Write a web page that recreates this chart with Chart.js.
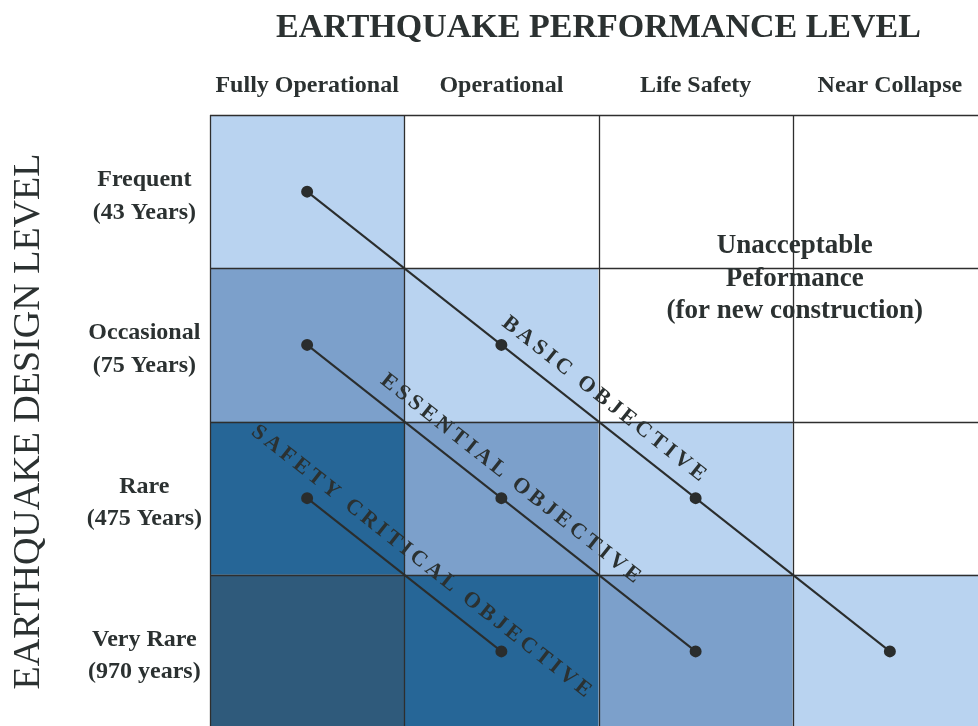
<!DOCTYPE html>
<html><head><meta charset="utf-8">
<script src="https://cdn.jsdelivr.net/npm/chart.js@4/dist/chart.umd.min.js"></script>
<style>
html,body{margin:0;padding:0;background:#fff;overflow:hidden;width:978px;height:726px}
#wrap{position:absolute;left:0;top:0;width:994px;height:735px}
</style></head>
<body><div id="wrap"><canvas id="c" width="994" height="735"></canvas></div>
<script>
// ---- data ----
const performanceLevels = ['Fully Operational', 'Operational', 'Life Safety', 'Near Collapse'];
const designLevels = [['Frequent', '(43 Years)'], ['Occasional', '(75 Years)'], ['Rare', '(475 Years)'], ['Very Rare', '(970 years)']];
// shade index per cell (row = design level, column = performance level); 0 = white
const cellShade = [
  [1, 0, 0, 0],
  [2, 1, 0, 0],
  [3, 2, 1, 0],
  [4, 3, 2, 1]
];
// objectives as [performance index, design index]
const basicObjective = [[0, 0], [1, 1], [2, 2], [3, 3]];
const essentialObjective = [[0, 1], [1, 2], [2, 3]];
const safetyCriticalObjective = [[0, 2], [1, 3]];
const objectiveNames = ['BASIC OBJECTIVE', 'ESSENTIAL OBJECTIVE', 'SAFETY CRITICAL OBJECTIVE'];
const unacceptableText = ['Unacceptable', 'Peformance', '(for new construction)'];

// ---- styles ----
const palette = ['#ffffff', '#b9d3f0', '#7ca0cb', '#266697', '#2f5a7b'];
const ink = '#2b3131';
const serif = '"Liberation Serif", "Times New Roman", serif';
const objectives = [basicObjective, essentialObjective, safetyCriticalObjective];
const labelAlong = [0.487, 0.49, 0.52];

const toPts = arr => arr.map(([c, r]) => ({x: c + 0.5, y: r + 0.5}));

const matrixPlugin = {
  id: 'matrix',
  beforeDraw(chart) {
    const {ctx, scales: {x, y}} = chart;
    ctx.save();
    cellShade.forEach((row, r) => row.forEach((s, c) => {
      const x0 = x.getPixelForValue(c), x1 = x.getPixelForValue(c + 1);
      const y0 = y.getPixelForValue(r), y1 = y.getPixelForValue(r + 1);
      ctx.fillStyle = palette[s];
      ctx.fillRect(x0, y0, x1 - x0, y1 - y0);
    }));
    ctx.strokeStyle = '#2e2e2e';
    ctx.lineWidth = 1.3;
    for (let i = 0; i <= performanceLevels.length; i++) {
      const px = Math.round(x.getPixelForValue(i)) + 0.5;
      ctx.beginPath(); ctx.moveTo(px, y.getPixelForValue(0)); ctx.lineTo(px, y.getPixelForValue(designLevels.length)); ctx.stroke();
    }
    for (let j = 0; j <= designLevels.length; j++) {
      const py = Math.round(y.getPixelForValue(j)) + 0.5;
      ctx.beginPath(); ctx.moveTo(x.getPixelForValue(0), py); ctx.lineTo(x.getPixelForValue(performanceLevels.length), py); ctx.stroke();
    }
    ctx.restore();
  },
  afterDatasetsDraw(chart) {
    const {ctx, scales: {x, y}} = chart;
    ctx.save();
    ctx.fillStyle = ink;
    // diagonal objective labels
    ctx.font = 'bold 22px ' + serif;
    ctx.textBaseline = 'middle';
    ctx.textAlign = 'left';
    const spacing = 3.8;
    objectives.forEach((obj, k) => {
      const a = obj[0], b = obj[obj.length - 1];
      const ax = x.getPixelForValue(a[0] + 0.5), ay = y.getPixelForValue(a[1] + 0.5);
      const bx = x.getPixelForValue(b[0] + 0.5), by = y.getPixelForValue(b[1] + 0.5);
      const ang = Math.atan2(by - ay, bx - ax);
      const t = labelAlong[k];
      const off = 21;
      const cx = ax + (bx - ax) * t + Math.sin(ang) * off;
      const cy = ay + (by - ay) * t - Math.cos(ang) * off;
      const text = objectiveNames[k];
      const chars = [...text];
      const widths = chars.map(ch => ctx.measureText(ch).width);
      const total = widths.reduce((s, w) => s + w, 0) + spacing * (chars.length - 1);
      ctx.save();
      ctx.translate(cx, cy);
      ctx.rotate(ang);
      let pos = -total / 2;
      chars.forEach((ch, i) => { ctx.fillText(ch, pos, 0); pos += widths[i] + spacing; });
      ctx.restore();
    });
    // unacceptable performance note
    ctx.font = 'bold 27px ' + serif;
    ctx.textAlign = 'center';
    const ux = x.getPixelForValue(3) + 2, uy = y.getPixelForValue(1.07);
    unacceptableText.forEach((line, i) => ctx.fillText(line, ux, uy + (i - 1) * 32.5));
    ctx.restore();
  }
};

new Chart(document.getElementById('c'), {
  type: 'line',
  data: {
    datasets: objectives.map((obj, k) => ({
      label: objectiveNames[k],
      data: toPts(obj),
      borderColor: '#2a2d2d',
      backgroundColor: '#2a2d2d',
      borderWidth: 2,
      pointRadius: 5,
      pointHoverRadius: 5,
      tension: 0
    }))
  },
  options: {
    responsive: false,
    animation: false,
    events: [],
    layout: {padding: {left: 0, top: 0, right: 2, bottom: 2}},
    plugins: {legend: {display: false}, tooltip: {enabled: false}},
    scales: {
      x: {
        type: 'linear', position: 'top', min: 0, max: 4,
        afterBuildTicks: s => { s.ticks = performanceLevels.map((_, i) => ({value: i + 0.5})); },
        afterFit: s => { s.height = 115; s.paddingLeft = 0; s.paddingRight = 0; },
        ticks: {autoSkip: false, maxRotation: 0, padding: 7, color: ink,
          font: {family: serif, weight: 'bold', size: 24},
          callback: v => performanceLevels[Math.floor(v)]},
        grid: {display: false},
        border: {display: false},
        title: {display: true, text: 'EARTHQUAKE PERFORMANCE LEVEL', color: ink,
          font: {family: serif, weight: 'bold', size: 34}, padding: {top: 8, bottom: 0}}
      },
      y: {
        type: 'linear', position: 'left', reverse: true, min: 0, max: 4,
        afterBuildTicks: s => { s.ticks = designLevels.map((_, i) => ({value: i + 0.53})); },
        afterFit: s => { s.width = 210; s.paddingTop = 0; s.paddingBottom = 0; },
        ticks: {autoSkip: false, crossAlign: 'center', padding: 0, color: ink,
          font: {family: serif, weight: 'bold', size: 24, lineHeight: 1.35},
          callback: v => designLevels[Math.floor(v)]},
        grid: {display: false},
        border: {display: false},
        title: {display: true, text: 'EARTHQUAKE DESIGN LEVEL', color: ink,
          font: {family: serif, weight: 'normal', size: 38}, padding: {top: 6, bottom: 0}}
      }
    }
  },
  plugins: [matrixPlugin]
});
</script>
</body></html>
